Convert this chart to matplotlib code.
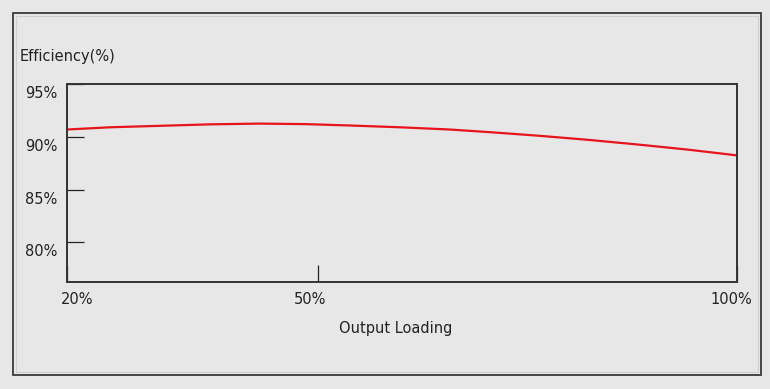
import matplotlib.pyplot as plt
from matplotlib.patches import Rectangle
from matplotlib.transforms import ScaledTranslation

plt.rcParams['font.family'] = ['DejaVu Sans']

# efficiency curve
load = [20, 25.1, 31.1, 37.1, 43.0, 48.5, 53.8, 59.8, 65.7, 71.0, 76.5, 82.4, 88.4, 94.2, 100]
eff = [90.69, 90.90, 91.04, 91.18, 91.25, 91.20, 91.07, 90.90, 90.69, 90.41, 90.09, 89.70, 89.25, 88.78, 88.24]

yticks = [80, 85, 90, 95]
ytick_labels = ['80%', '85%', '90%', '95%']
xticks = [20, 50, 100]
xtick_labels = ['20%', '50%', '100%']

bg = '#e7e7e7'
fig = plt.figure(figsize=(7.7, 3.89), dpi=100, facecolor=bg)
ax = fig.add_axes([67 / 770, 107 / 389, 670 / 770, 198 / 389])
ax.set_facecolor(bg)

ax.plot(load, eff, color='#e8141c', lw=1.6)

ax.set_xlim(20, 100)
ax.set_ylim(76.25, 95)
ax.set_yticks(yticks)
ax.set_yticklabels(ytick_labels)
ax.set_xticks(xticks)
ax.set_xticklabels(xtick_labels)

ax.tick_params(axis='both', direction='in', length=12, width=0.9, color='#222222',
               labelsize=10.5, labelcolor='#222222')
ax.tick_params(axis='y', pad=7)
ax.tick_params(axis='x', pad=7)
for s in ax.spines.values():
    s.set_color('#333333')
    s.set_linewidth(1.4)

# labels in the original sit a little off their ticks
for lab in ax.get_yticklabels():
    lab.set_transform(lab.get_transform() + ScaledTranslation(0, -8 / 100, fig.dpi_scale_trans))
for lab, dx in zip(ax.get_xticklabels(), [10, -8, -6]):
    lab.set_transform(lab.get_transform() + ScaledTranslation(dx / 100, 0, fig.dpi_scale_trans))

fig.text(20 / 770, 1 - 57 / 389, 'Efficiency(%)', fontsize=10.5, color='#222222',
         ha='left', va='center')
fig.text(396 / 770, 1 - 328 / 389, 'Output Loading', fontsize=10.5, color='#222222',
         ha='center', va='center')

# outer frame
fig.patches.append(Rectangle((13 / 770, 14 / 389), 748 / 770, 362 / 389,
                             transform=fig.transFigure, fill=False,
                             edgecolor='#3a3a3a', lw=1.3))
fig.patches.append(Rectangle((16 / 770, 17 / 389), 742 / 770, 356 / 389,
                             transform=fig.transFigure, fill=False,
                             edgecolor='#cfcfcf', lw=0.8))

fig.savefig('out.png', dpi=100, facecolor=bg)
